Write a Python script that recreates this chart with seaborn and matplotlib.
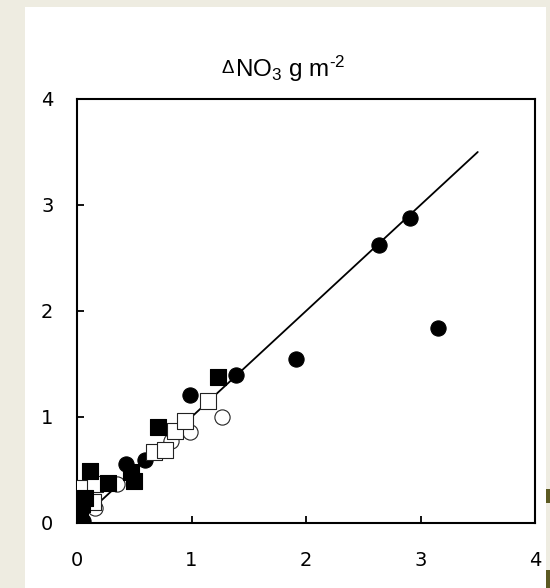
import matplotlib
matplotlib.use("Agg")
import matplotlib.pyplot as plt
from matplotlib.patches import Rectangle
import seaborn as sns
import pandas as pd

# ---- data ----
filled_circle_x = [0.43, 0.59, 0.99, 1.39, 1.91, 2.64, 2.91, 3.15, 0.02, 0.05]
filled_circle_y = [0.56, 0.59, 1.21, 1.40, 1.55, 2.62, 2.88, 1.84, 0.05, 0.02]
open_circle_x = [0.16, 0.35, 0.82, 0.99, 1.27]
open_circle_y = [0.14, 0.37, 0.77, 0.86, 1.00]
filled_square_x = [0.11, 0.27, 0.50, 0.47, 0.71, 1.23, 0.07, 0.00, 0.01, 0.03, 0.04]
filled_square_y = [0.49, 0.38, 0.40, 0.48, 0.91, 1.38, 0.24, 0.14, 0.03, 0.08, 0.18]
open_square_x = [0.00, 0.03, 0.14, 0.16, 0.67, 0.77, 0.86, 0.94, 1.14]
open_square_y = [0.00, 0.33, 0.20, 0.37, 0.67, 0.69, 0.87, 0.96, 1.15]
line_x = [0.1, 3.5]
line_y = [0.1, 3.5]
ticks = [0, 1, 2, 3, 4]
tick_labels = ["0", "1", "2", "3", "4"]
title_delta = "\u0394"
title_rest = r"NO$_3$ g m$^{\text{-}2}$"

sns.set_style("ticks")
plt.rcParams["font.family"] = ["DejaVu Sans"]
plt.rcParams["mathtext.fontset"] = "custom"
plt.rcParams["mathtext.rm"] = "Liberation Sans"
plt.rcParams["mathtext.it"] = "Liberation Sans"

fig = plt.figure(figsize=(5.5, 5.88), dpi=100)
fig.patch.set_facecolor("#EEECE1")
fig.patches.append(Rectangle((25 / 550, 0), (546 - 25) / 550, 1 - 7 / 588,
                             transform=fig.transFigure, facecolor="white",
                             edgecolor="none", zorder=-10))
fig.patches.append(Rectangle((546 / 550, 1 - 503 / 588), 4 / 550, 14 / 588,
                             transform=fig.transFigure, facecolor="#5C5A22",
                             edgecolor="none", zorder=-9))
fig.patches.append(Rectangle((546 / 550, 0), 4 / 550, 18 / 588,
                             transform=fig.transFigure, facecolor="#5C5A22",
                             edgecolor="none", zorder=-9))

ax = fig.add_axes([77 / 550, 1 - 523 / 588, (535 - 77) / 550, (523 - 99) / 588])
ax.set_zorder(1)
ax.set_facecolor("none")

sns.lineplot(x=line_x, y=line_y, ax=ax, color="black", linewidth=1.3, zorder=2)

ms = 120
sns.scatterplot(x=open_circle_x, y=open_circle_y, ax=ax, marker="o", s=ms,
                facecolor="white", edgecolor="#222222", linewidth=0.8, zorder=3)
sns.scatterplot(x=filled_circle_x, y=filled_circle_y, ax=ax, marker="o", s=ms,
                facecolor="black", edgecolor="black", linewidth=0.8, zorder=4)
sns.scatterplot(x=open_square_x, y=open_square_y, ax=ax, marker="s", s=ms,
                facecolor="white", edgecolor="#222222", linewidth=0.8, zorder=5)
sns.scatterplot(x=filled_square_x, y=filled_square_y, ax=ax, marker="s", s=ms,
                facecolor="black", edgecolor="black", linewidth=0.8, zorder=6)

ax.set_xlim(0, 4)
ax.set_ylim(0, 4)
ax.set_xticks(ticks)
ax.set_xticklabels(tick_labels)
ax.set_yticks(ticks)
ax.set_yticklabels(tick_labels)
ax.tick_params(axis="both", direction="in", length=5, width=1.3,
               labelsize=14, colors="black")
ax.tick_params(axis="x", pad=20)
ax.tick_params(axis="y", pad=17)
for side in ["left", "right", "top", "bottom"]:
    ax.spines[side].set_visible(True)
    ax.spines[side].set_linewidth(1.5)
    ax.spines[side].set_color("black")
ax.set_xlabel("")
ax.set_ylabel("")

t1 = fig.text(222 / 550, 1 - 73 / 588, title_delta, ha="left", va="baseline",
              fontsize=13.5, family="Liberation Sans", color="black")
ax.annotate(title_rest, xy=(1, 0), xycoords=t1, xytext=(0.5, 0),
            textcoords="offset points", ha="left", va="baseline",
            fontsize=17.5, family="Liberation Sans", color="black",
            annotation_clip=False)

fig.savefig("out.png", dpi=100, facecolor=fig.get_facecolor())
